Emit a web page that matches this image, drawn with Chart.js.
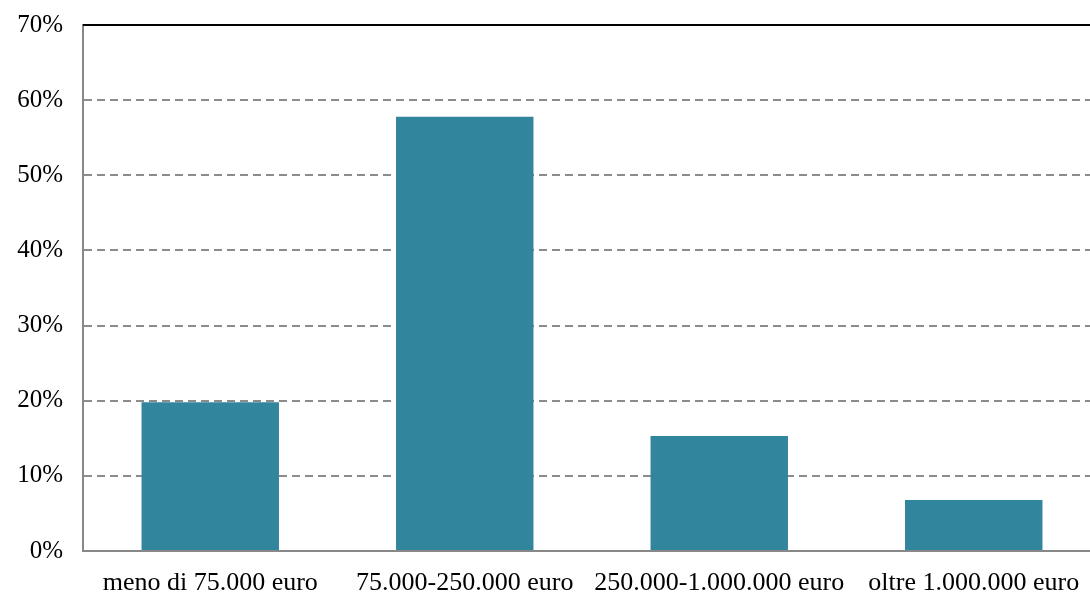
<!DOCTYPE html>
<html>
<head>
<meta charset="utf-8">
<script src="https://cdn.jsdelivr.net/npm/chart.js@4"></script>
<style>
html,body{margin:0;padding:0;background:#fff;overflow:hidden;}
#wrap{width:1101px;height:595px;}
</style>
</head>
<body>
<div id="wrap"><canvas id="c" width="1101" height="595"></canvas></div>
<script>
const categories = ["meno di 75.000 euro", "75.000-250.000 euro", "250.000-1.000.000 euro", "oltre 1.000.000 euro"];
const shares = [19.8, 57.8, 15.3, 6.8];
const yTicks = [0, 10, 20, 30, 40, 50, 60, 70];

const topLine = {
  id: 'topLine',
  afterDatasetsDraw(chart) {
    const y = chart.scales.y, a = chart.chartArea, ctx = chart.ctx;
    const py = y.getPixelForValue(70);
    ctx.save();
    ctx.strokeStyle = '#000';
    ctx.lineWidth = 2;
    ctx.beginPath();
    ctx.moveTo(a.left, py);
    ctx.lineTo(a.right, py);
    ctx.stroke();
    ctx.restore();
  }
};

new Chart(document.getElementById('c'), {
  type: 'bar',
  data: {
    labels: categories,
    datasets: [{
      data: shares,
      backgroundColor: '#31859c',
      borderWidth: 0,
      barPercentage: 0.54,
      categoryPercentage: 1
    }]
  },
  options: {
    responsive: false,
    animation: false,
    layout: { padding: { top: 25, left: 0, right: 0, bottom: 0 } },
    plugins: { legend: { display: false }, tooltip: { enabled: false } },
    scales: {
      x: {
        grid: { display: false, drawTicks: false },
        border: { display: true, color: '#888', width: 2 },
        ticks: { color: '#000', padding: 17, maxRotation: 0, minRotation: 0, autoSkip: false, font: { family: 'Liberation Serif', size: 26 } },
        afterFit(s) { s.height = 44; s.paddingLeft = 0; s.paddingRight = 0; }
      },
      y: {
        min: 0, max: 70,
        afterBuildTicks(s) { s.ticks = yTicks.map(v => ({ value: v })); },
        grid: { color: '#8c8c8c', lineWidth: 2, drawTicks: false },
        border: { display: true, color: '#888', width: 2, dash: [8, 5] },
        ticks: { color: '#000', padding: 20, font: { family: 'Liberation Serif', size: 25 }, callback: v => v + '%' },
        afterFit(s) { s.width = 83; s.paddingTop = 0; s.paddingBottom = 0; }
      }
    }
  },
  plugins: [topLine]
});
</script>
</body>
</html>
